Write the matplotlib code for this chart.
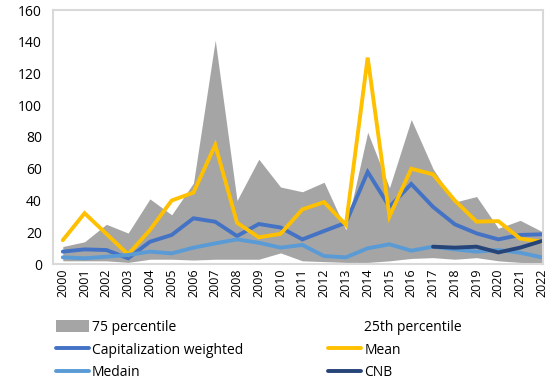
import matplotlib as mpl
import matplotlib.pyplot as plt
import numpy as np
from matplotlib.patches import Patch
from matplotlib.lines import Line2D

mpl.rcParams['font.family'] = ['Open Sans', 'DejaVu Sans']
mpl.rcParams['font.size'] = 9.5

years = [str(y) for y in range(2000, 2023)]

p75 = [11, 14, 25, 19.5, 41, 31, 51, 141, 40, 66, 48.5, 45.5, 51.5, 21.5,
       83, 48, 91, 60, 39, 42.5, 22.5, 27.5, 20.5]
p25 = [2, 2, 2, 1, 3, 3, 2.5, 3, 3, 3, 7, 2, 1.5, 1,
       1, 2, 3.5, 4, 3, 4, 2, 1, 0.5]
cap_weighted = [7.8, 9.2, 8.8, 3.6, 14, 18.3, 28.8, 26.6, 17.6, 25.2, 23, 15.5,
                20.8, 26, 58, 36, 50.4, 36, 25, 19.3, 15.5, 18.3, 18.7]
mean = [15, 32, 19, 6, 21.4, 40, 45, 75, 26, 16.8, 19, 34.4, 39, 24.6,
        130, 30, 60, 56.5, 40, 26.7, 27, 16, 14]
median = [4.2, 3.6, 4.6, 5.7, 7.8, 6.7, 10.3, 13, 15.5, 13.4, 10.3, 12, 5, 4.2,
          9.9, 12.4, 8.4, 10.9, 9.2, 7.8, 8.8, 7.1, 4.2]
cnb_years = years[17:]
cnb = [10.9, 10.3, 10.9, 7.3, 10.3, 14.5]

x = np.arange(len(years))
xc = np.arange(17, 17 + len(cnb))

grey = '#A5A5A5'
c_cap = '#4472C4'
c_mean = '#FFC000'
c_med = '#5B9BD5'
c_cnb = '#264478'

fig = plt.figure(figsize=(5.5, 3.81), dpi=100)
ax = fig.add_axes([53 / 550, 1 - 264 / 381, 490 / 550, 254 / 381])

# white band below the 25th percentile, grey band up to the 75th
ax.fill_between(x, 0, p25, color='white', lw=0)
ax.fill_between(x, p25, p75, color=grey, lw=0)

lw = 2.8
ax.plot(x, cap_weighted, color=c_cap, lw=lw, solid_capstyle='round', solid_joinstyle='miter')
ax.plot(x, mean, color=c_mean, lw=lw, solid_capstyle='round', solid_joinstyle='miter')
ax.plot(x, median, color=c_med, lw=lw, solid_capstyle='round', solid_joinstyle='miter')
ax.plot(xc, cnb, color=c_cnb, lw=lw, solid_capstyle='round', solid_joinstyle='miter')

ax.set_xlim(-0.45, 22.05)
ax.set_ylim(0, 160)
ax.set_yticks(range(0, 161, 20))
ax.set_xticks(x)
ax.set_xticklabels(years, rotation=90, fontsize=9)
ax.tick_params(length=0, pad=3)
ax.tick_params(axis='y', labelsize=10, pad=8)
for s in ax.spines.values():
    s.set_color('#D9D9D9')
    s.set_linewidth(1.5)

handles = [
    Patch(facecolor=grey, edgecolor='none', label='75 percentile'),
    Line2D([], [], color=c_cap, lw=lw, solid_capstyle='round', label='Capitalization weighted'),
    Line2D([], [], color=c_med, lw=lw, solid_capstyle='round', label='Medain'),
    Patch(facecolor='white', edgecolor='none', label='25th percentile'),
    Line2D([], [], color=c_mean, lw=lw, solid_capstyle='round', label='Mean'),
    Line2D([], [], color=c_cnb, lw=lw, solid_capstyle='round', label='CNB'),
]
fig.legend(handles=handles, ncol=2, loc='upper left',
           bbox_to_anchor=(56 / 550, 1 - 320 / 381), frameon=False,
           fontsize=10, handlelength=2.4, handleheight=0.9, handletextpad=0.2,
           columnspacing=6.1, labelspacing=0.55, borderpad=0, borderaxespad=0)

fig.savefig('out.png', dpi=100)
